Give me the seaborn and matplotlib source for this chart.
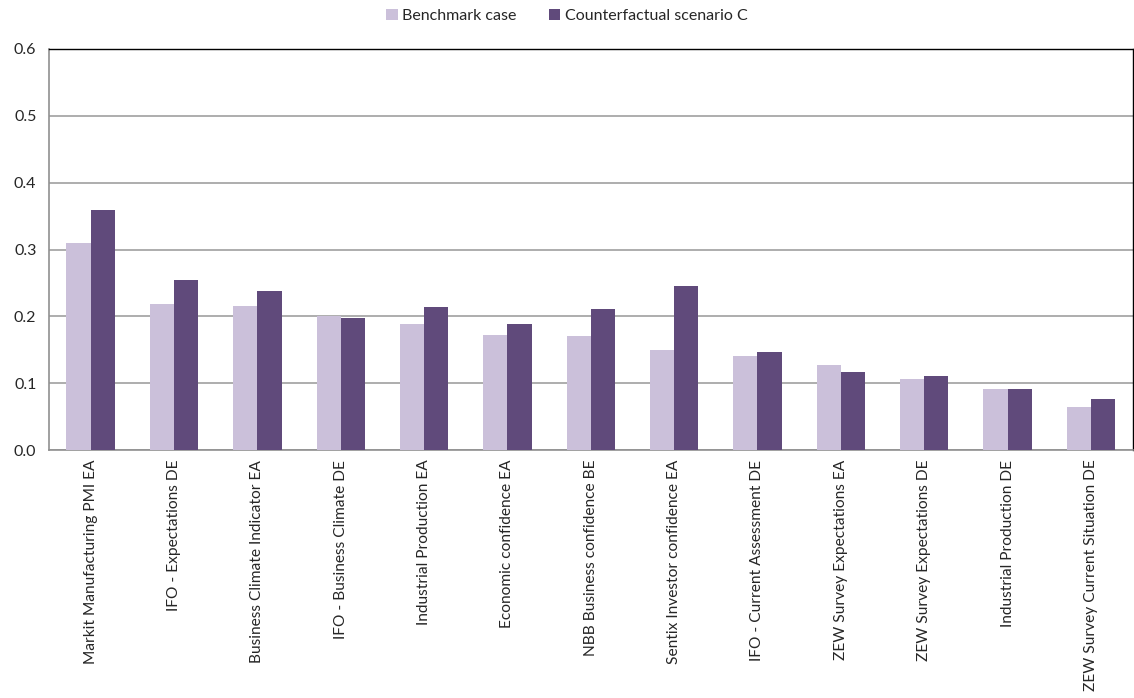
import matplotlib
matplotlib.use("Agg")
import matplotlib.pyplot as plt
import seaborn as sns
import pandas as pd
import numpy as np

categories = [
    "Markit Manufacturing PMI EA",
    "IFO - Expectations DE",
    "Business Climate Indicator EA",
    "IFO - Business Climate DE",
    "Industrial Production EA",
    "Economic confidence EA",
    "NBB Business confidence BE",
    "Sentix Investor confidence EA",
    "IFO - Current Assessment DE",
    "ZEW Survey Expectations EA",
    "ZEW Survey Expectations DE",
    "Industrial Production DE",
    "ZEW Survey Current Situation DE",
]
benchmark = [0.310, 0.219, 0.216, 0.200, 0.189, 0.172, 0.171, 0.150, 0.140, 0.127, 0.106, 0.092, 0.064]
counterfactual = [0.359, 0.254, 0.238, 0.197, 0.214, 0.188, 0.211, 0.245, 0.147, 0.116, 0.111, 0.091, 0.076]
series_names = ["Benchmark case", "Counterfactual scenario C"]
yticks = [0.0, 0.1, 0.2, 0.3, 0.4, 0.5, 0.6]

df = pd.DataFrame({
    "category": categories * 2,
    "value": benchmark + counterfactual,
    "series": [series_names[0]] * len(categories) + [series_names[1]] * len(categories),
})

sns.set_style("white")
plt.rcParams["font.family"] = ["Lato", "DejaVu Sans"]

fig = plt.figure(figsize=(11.34, 6.98), dpi=100)
ax = fig.add_axes([0.0432, 0.3553, 0.9555, 0.5745])

palette = {series_names[0]: "#CBC0DA", series_names[1]: "#604A7B"}
sns.barplot(data=df, x="category", y="value", hue="series", order=categories,
            hue_order=series_names, palette=palette, width=0.58, ax=ax,
            saturation=1, edgecolor="none", linewidth=0, zorder=3)

ax.set_ylim(0, 0.6)
ax.set_xlim(-0.5, len(categories) - 0.5)
ax.set_yticks(yticks)
ax.set_yticklabels([f"{v:.1f}" for v in yticks], fontsize=11.5)
ax.set_xticks(range(len(categories)))
ax.set_xticklabels(categories, rotation=90, fontsize=11.2, va="top", ha="center")
ax.tick_params(axis="x", length=0, pad=7)
ax.set_xticks(np.arange(-0.5, len(categories), 1.0), minor=True)
ax.tick_params(axis="x", which="minor", length=5, color="#909090", width=1, direction="out")
ax.tick_params(axis="y", length=5, color="#909090", width=1, direction="out", pad=4)
ax.set_xlabel("")
ax.set_ylabel("")

ax.yaxis.grid(True, color="#A0A0A0", linewidth=1.2, zorder=0)
ax.set_axisbelow(True)
for side in ["left", "bottom"]:
    ax.spines[side].set_color("#909090")
    ax.spines[side].set_linewidth(1.2)
for side in ["top", "right"]:
    ax.spines[side].set_color("black")
    ax.spines[side].set_linewidth(1.0)

handles, labels = ax.get_legend_handles_labels()
ax.legend(handles, labels, loc="upper center", bbox_to_anchor=(0.5, 1.008),
          bbox_transform=fig.transFigure, ncol=2, frameon=False, fontsize=11.5,
          handlelength=0.7, handleheight=0.7, handletextpad=0.3, columnspacing=2.0)

fig.savefig("out.png", dpi=100)
